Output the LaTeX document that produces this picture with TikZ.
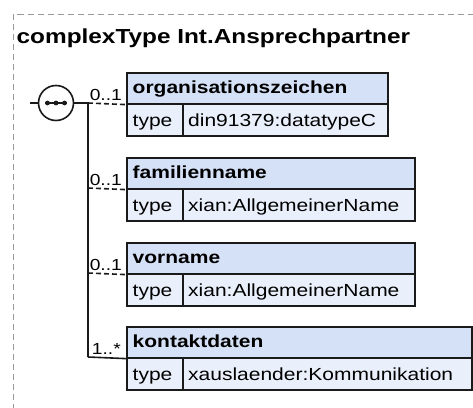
\documentclass[tikz,border=0pt]{standalone}
\usepackage{fontspec}
\setmainfont{Liberation Sans}[FakeStretch=1.2]
\definecolor{hdrfill}{HTML}{D5E1F7}
\definecolor{typfill}{HTML}{EAF0FB}
\definecolor{edge}{HTML}{1A1A1A}
\definecolor{frame}{HTML}{9A9A9A}
\tikzset{
  boxcell/.style={draw=edge, line width=1.6pt, rectangle, inner sep=0pt, anchor=north west},
  hdr/.style={boxcell, fill=hdrfill, minimum height=31pt},
  typcell/.style={boxcell, fill=typfill, minimum height=32pt},
  hdrtxt/.style={inner sep=0pt, anchor=base west, font=\fontsize{17.5}{20}\selectfont\bfseries},
  rowtxt/.style={inner sep=0pt, anchor=base west, font=\fontsize{17.5}{20}\selectfont},
  lbl/.style={inner sep=0pt, anchor=base east, font=\fontsize{16}{18}\selectfont},
  conn/.style={draw=edge, line width=1.6pt},
  optconn/.style={conn, dash pattern=on 5pt off 3pt},
}
\begin{document}
\begin{tikzpicture}[x=1pt,y=-1pt]
\useasboundingbox (0,0) rectangle (473,407);
% frame
\draw[frame, line width=0.9pt, dash pattern=on 6pt off 4pt] (13.5,420) -- (13.5,14) -- (490,14);
% title
\node[inner sep=0pt, anchor=base west, font=\fontsize{20.3}{24}\selectfont\bfseries] (title) at (16.5,43.5) {complexType Int.Ansprechpartner};

% box 1
\node[hdr, minimum width=261pt] (h1) at (126,72) {};
\node[typcell, minimum width=56pt] (t1) at (126,103) {};
\node[typcell, minimum width=205pt] (v1) at (182,103) {};
\node[hdrtxt] (h1l) at (132.5,93) {organisationszeichen};
\node[rowtxt] (t1l) at (132.5,126) {type};
\node[rowtxt] (v1l) at (188,126) {din91379:datatypeC};

% box 2
\node[hdr, minimum width=288pt] (h2) at (126,157) {};
\node[typcell, minimum width=56pt] (t2) at (126,188) {};
\node[typcell, minimum width=232pt] (v2) at (182,188) {};
\node[hdrtxt] (h2l) at (132.5,178) {familienname};
\node[rowtxt] (t2l) at (132.5,211) {type};
\node[rowtxt] (v2l) at (188,211) {xian:AllgemeinerName};

% box 3
\node[hdr, minimum width=288pt] (h3) at (126,242) {};
\node[typcell, minimum width=56pt] (t3) at (126,273) {};
\node[typcell, minimum width=232pt] (v3) at (182,273) {};
\node[hdrtxt] (h3l) at (132.5,263) {vorname};
\node[rowtxt] (t3l) at (132.5,296) {type};
\node[rowtxt] (v3l) at (188,296) {xian:AllgemeinerName};

% box 4
\node[hdr, minimum width=345pt] (h4) at (126,326) {};
\node[typcell, minimum width=56pt] (t4) at (126,357) {};
\node[typcell, minimum width=289pt] (v4) at (182,357) {};
\node[hdrtxt] (h4l) at (132.5,347) {kontaktdaten};
\node[rowtxt] (t4l) at (132.5,380) {type};
\node[rowtxt] (v4l) at (188,380) {xauslaender:Kommunikation};

% sequence compositor
\coordinate (lead) at (30,103);
\node[circle, draw=edge, line width=1.6pt, fill=white, minimum size=35pt, inner sep=0pt] (seq) at (56,103) {};
\draw[edge, line width=1.2pt] (45,103) -- (67,103);
\fill[edge] (47.5,103) circle (2.4pt) (56,103) circle (2.4pt) (64.5,103) circle (2.4pt);

\coordinate (j1) at (88,103);
\coordinate (j2) at (88,188);
\coordinate (j3) at (88,273);
\coordinate (j4) at (88,357);

\path[conn] (lead) -- (seq.west);
\path[conn] (seq.east) -- (j1);
\path[conn] (j1) -- (j4);
\path[optconn] (j1) -- (h1.south west);
\path[optconn] (j2) -- (h2.south west);
\path[optconn] (j3) -- (h3.south west);
\path[conn] (j4) -- (h4.south west);

% cardinality labels
\node[lbl] (c1) at (122,100) {0..1};
\node[lbl] (c2) at (122,185) {0..1};
\node[lbl] (c3) at (122,270) {0..1};
\node[lbl] (c4) at (121,354) {1..*};
\end{tikzpicture}
\end{document}
